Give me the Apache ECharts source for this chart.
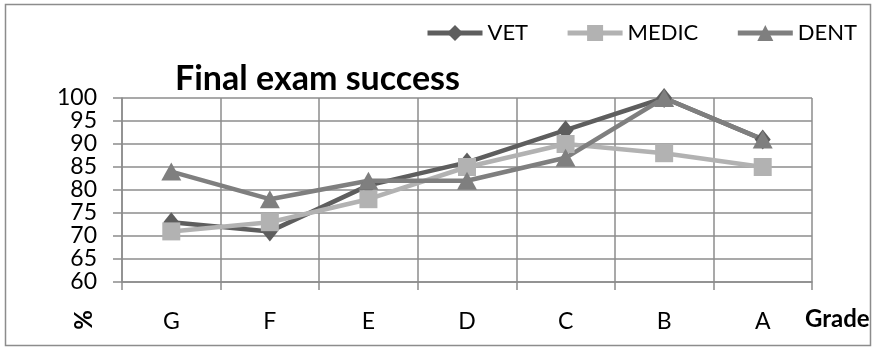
<!DOCTYPE html>
<html>
<head>
<meta charset="utf-8">
<script src="https://cdn.jsdelivr.net/npm/echarts@6/dist/echarts.min.js"></script>
<style>
  html, body { margin: 0; padding: 0; background: #fff; }
  #chart { width: 876px; height: 350px; }
</style>
</head>
<body>
<div id="chart"></div>
<script>
// Grades along the horizontal axis
const grades = ['G', 'F', 'E', 'D', 'C', 'B', 'A'];

// Success rate (%) per faculty
const vet   = [73, 71, 81, 86, 93, 100, 91];
const medic = [71, 73, 78, 85, 90, 88, 85];
const dent  = [84, 78, 82, 82, 87, 100, 91];

const seriesNames = ['VET', 'MEDIC', 'DENT'];
const titleText = 'Final exam success';
const yName = '%';
const xName = 'Grade';

const FONT = 'Lato';
const GRID_COLOR = '#8c8c8c';

const chart = echarts.init(document.getElementById('chart'), null, { renderer: 'canvas' });

function lineSeries(name, data, color, symbol, size) {
  return {
    name: name,
    type: 'line',
    data: data,
    symbol: symbol,
    symbolSize: size,
    showAllSymbol: true,
    lineStyle: { color: color, width: 4.5 },
    itemStyle: { color: color },
    emphasis: { disabled: true },
    animation: false
  };
}

chart.setOption({
  animation: false,
  backgroundColor: '#ffffff',
  title: {
    text: titleText,
    left: 175,
    top: 62,
    padding: 0,
    textStyle: { fontFamily: FONT, fontWeight: 'bold', fontSize: 34, color: '#000' }
  },
  legend: {
    data: seriesNames,
    left: 425,
    top: 22,
    padding: 0,
    itemWidth: 55,
    itemHeight: 20,
    itemGap: 37,
    lineStyle: { width: 5 },
    textStyle: { fontFamily: FONT, fontSize: 22, color: '#000' }
  },
  grid: { left: 122, right: 64, top: 98, bottom: 68 },
  xAxis: {
    type: 'category',
    data: grades,
    boundaryGap: true,
    axisLine: { show: true, lineStyle: { color: GRID_COLOR, width: 1.5 } },
    axisTick: { show: true, length: 8, alignWithLabel: false, lineStyle: { color: GRID_COLOR, width: 1.5 } },
    splitLine: { show: true, lineStyle: { color: GRID_COLOR, width: 1.5 } },
    axisLabel: { fontFamily: FONT, fontSize: 23, color: '#000', margin: 28 }
  },
  yAxis: {
    type: 'value',
    min: 60,
    max: 100,
    interval: 5,
    axisLine: { show: true, lineStyle: { color: GRID_COLOR, width: 1.5 } },
    axisTick: { show: true, length: 9, lineStyle: { color: GRID_COLOR, width: 1.5 } },
    splitLine: { show: true, lineStyle: { color: GRID_COLOR, width: 1.5 } },
    axisLabel: { fontFamily: FONT, fontSize: 23, color: '#000', margin: 25 }
  },
  graphic: [
    {
      type: 'rect',
      shape: { x: 5.5, y: 4.5, width: 865, height: 341 },
      style: { fill: null, stroke: '#8c8c8c', lineWidth: 1.5 },
      silent: true,
      z: -10
    },
    {
      type: 'text',
      x: 84, y: 320,
      rotation: Math.PI / 2,
      style: { text: yName, fontFamily: FONT, fontWeight: 'bold', fontSize: 24, fill: '#000', align: 'center', verticalAlign: 'middle' }
    },
    {
      type: 'text',
      x: 805, y: 319,
      style: { text: xName, fontFamily: FONT, fontWeight: 'bold', fontSize: 24, fill: '#000', align: 'left', verticalAlign: 'middle' }
    }
  ],
  series: [
    lineSeries('VET', vet, '#5e5e5e', 'diamond', [16, 20]),
    lineSeries('MEDIC', medic, '#b2b2b2', 'rect', 18),
    lineSeries('DENT', dent, '#7f7f7f', 'triangle', [20, 18])
  ]
});
</script>
</body>
</html>
